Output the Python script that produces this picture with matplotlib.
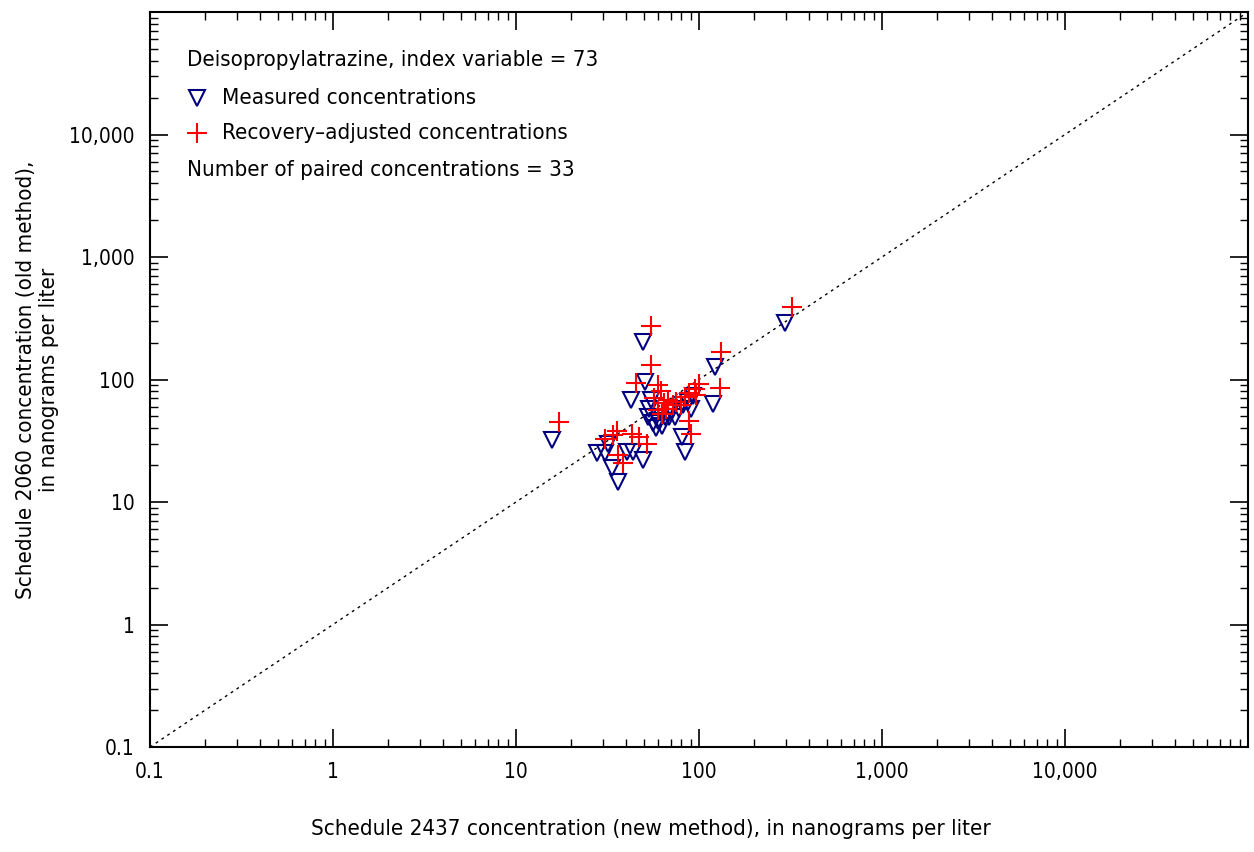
import matplotlib
matplotlib.use("Agg")
import matplotlib.pyplot as plt
from matplotlib.ticker import FixedLocator, FixedFormatter, LogLocator, NullFormatter

plt.rcParams['font.family'] = ['Liberation Sans Narrow', 'DejaVu Sans']
plt.rcParams['font.stretch'] = 'condensed'

# measured concentrations (new method x, old method y), ng/L
meas_x = [15.7, 49.5, 51, 42.5, 295, 122, 119, 55, 53, 52.6, 60, 65, 69, 92.7, 87, 82, 74,
          63, 81, 84, 56, 49.5, 27.7, 30.5, 33.5, 36, 40.4, 43.6, 58, 78, 90, 32, 70]
meas_y = [32, 201, 95, 68, 287, 126, 63, 68, 58, 49, 46, 49, 49, 74, 65, 62, 49,
          42, 34, 25.5, 44, 22, 25, 25, 19, 14.5, 25.5, 25.5, 40, 58, 58, 30, 55]

# recovery-adjusted concentrations
adj_x = [17.2, 55, 55, 45, 322, 132, 130, 60, 62, 57, 64, 68, 72, 100, 95, 88, 80,
         66, 88, 90, 60, 52, 30.5, 34, 36, 38.5, 43, 47, 63, 84, 96, 35.5, 75]
adj_y = [45, 275, 131, 93, 388, 167, 85, 90, 80, 70, 64, 68, 62, 92, 84, 78, 62,
         58, 46, 36, 56, 30, 33, 35, 24, 21, 36, 34, 52, 72, 75, 38, 66]

tick_vals = [0.1, 1, 10, 100, 1000, 10000]
tick_labels = ['0.1', '1', '10', '100', '1,000', '10,000']

fig = plt.figure(figsize=(12.54, 8.52), dpi=100)
ax = fig.add_axes([0.1196, 0.1232, 0.8756, 0.8627])

ax.set_xscale('log')
ax.set_yscale('log')
ax.set_xlim(0.1, 100000)
ax.set_ylim(0.1, 100000)

# 1:1 line
ax.plot([0.1, 100000], [0.1, 100000], ls=(0, (2, 3)), color='black', lw=1)

ax.plot(meas_x, meas_y, ls='none', marker='v', ms=12, mfc='none', mec='#000080', mew=1.5)
ax.plot(adj_x, adj_y, ls='none', marker='+', ms=14, color='red', mew=1.5)

for axis in (ax.xaxis, ax.yaxis):
    axis.set_major_locator(FixedLocator(tick_vals))
    axis.set_major_formatter(FixedFormatter(tick_labels))
    axis.set_minor_locator(LogLocator(base=10, subs=range(2, 10), numticks=20))
    axis.set_minor_formatter(NullFormatter())

ax.tick_params(which='major', direction='in', length=13, width=1.2, top=True, right=True,
               labelsize=15, pad=11)
ax.tick_params(which='minor', direction='in', length=6, width=1, top=True, right=True)
for s in ax.spines.values():
    s.set_linewidth(1.5)

ax.set_xlabel('Schedule 2437 concentration (new method), in nanograms per liter', fontsize=16)
ax.xaxis.set_label_coords(0.456, -0.098)
ax.set_ylabel('Schedule 2060 concentration (old method),\nin nanograms per liter', fontsize=16, labelpad=7)

# legend block
tr = ax.transAxes
ax.text(0.034, 0.935, 'Deisopropylatrazine, index variable = 73', transform=tr, fontsize=16, va='center')
ax.plot([0.043], [0.883], transform=tr, ls='none', marker='v', ms=12, mfc='none', mec='#000080', mew=1.5)
ax.text(0.066, 0.883, 'Measured concentrations', transform=tr, fontsize=16, va='center')
ax.plot([0.043], [0.835], transform=tr, ls='none', marker='+', ms=14, color='red', mew=1.5)
ax.text(0.066, 0.835, 'Recovery\u2013adjusted concentrations', transform=tr, fontsize=16, va='center')
ax.text(0.034, 0.785, 'Number of paired concentrations = 33', transform=tr, fontsize=16, va='center')

plt.savefig('out.png', dpi=100)
